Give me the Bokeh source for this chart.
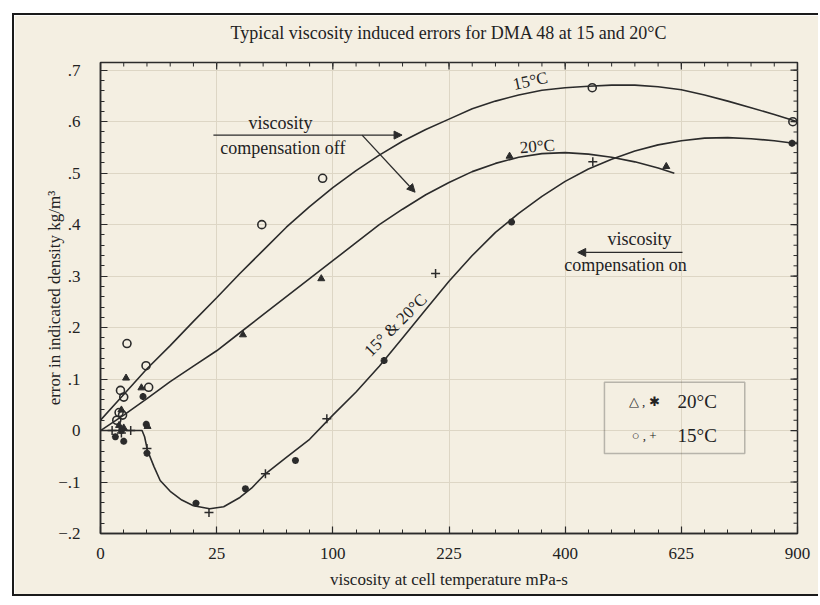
import numpy as np
from bokeh.plotting import figure
from bokeh.models import (FixedTicker, Label, Arrow, NormalHead,
                          BoxAnnotation, Range1d)
from bokeh.embed import file_html
from bokeh.resources import INLINE

# ---------------- data (viscosity mPa-s, error kg/m3) ----------------
x_tick_labels = ["0", "25", "100", "225", "400", "625", "900"]
y_tick_labels = ["\u2212.2", "\u2212.1", "0", ".1", ".2", ".3", ".4", ".5", ".6", ".7"]
y_tick_values = [-0.2, -0.1, 0, 0.1, 0.2, 0.3, 0.4, 0.5, 0.6, 0.7]

curve15_visc = [0, 1, 4, 9, 16, 25, 36, 49, 64, 81, 100, 121, 144, 169, 196, 225, 256,
                289, 324, 361, 400, 441, 484, 529, 576, 625, 676, 729, 784, 841, 900]
curve15_err = [0.02, 0.07, 0.12, 0.165, 0.212, 0.258, 0.305, 0.35, 0.395, 0.435, 0.472,
               0.505, 0.535, 0.562, 0.585, 0.605, 0.625, 0.64, 0.652, 0.661, 0.666, 0.669,
               0.671, 0.671, 0.668, 0.662, 0.652, 0.64, 0.627, 0.614, 0.60]

curve20_visc = [0, 1, 4, 9, 16, 25, 36, 49, 64, 81, 100, 121, 144, 169, 196, 225, 256,
                289, 324, 361, 400, 441, 484, 529, 576, 610]
curve20_err = [0, 0.03, 0.062, 0.095, 0.125, 0.155, 0.19, 0.225, 0.26, 0.295, 0.33, 0.365,
               0.4, 0.43, 0.458, 0.482, 0.503, 0.519, 0.531, 0.538, 0.54, 0.537, 0.531,
               0.522, 0.51, 0.50]

curve_on_visc = [0, 1, 3.2, 3.6, 4.1, 5.3, 6.6, 9, 12.25, 16, 22.1, 28.1, 36, 42.25, 50.4,
                 64, 81, 100, 121, 144, 169, 196, 225, 256, 289, 324, 361, 400, 441, 484,
                 529, 576, 625, 676, 729, 784, 841, 900]
curve_on_err = [0, 0, 0, -0.012, -0.039, -0.07, -0.097, -0.118, -0.135, -0.146, -0.152,
                -0.148, -0.13, -0.112, -0.084, -0.052, -0.017, 0.03, 0.075, 0.125, 0.18,
                0.235, 0.29, 0.34, 0.385, 0.422, 0.455, 0.484, 0.508, 0.527, 0.543, 0.555,
                0.563, 0.568, 0.569, 0.567, 0.563, 0.557]

circ15_visc = [0.49, 0.64, 0.74, 0.9, 1.0, 1.3, 3.84, 4.3, 48.2, 91.4, 448, 888]
circ15_err = [0.02, 0.035, 0.078, 0.03, 0.065, 0.169, 0.126, 0.084, 0.40, 0.49, 0.666, 0.60]

tri20_visc = [0.64, 1.0, 0.81, 1.21, 3.1, 4.1, 37.6, 90.3, 310, 593]
tri20_err = [0.01, 0.005, 0.04, 0.102, 0.083, 0.008, 0.186, 0.295, 0.533, 0.513]

star20_visc = [0.41, 0.81, 1.0, 3.35, 3.88, 4.0, 16.9, 38.9, 70.4, 149, 313, 886]
star20_err = [-0.012, 0.0, -0.021, 0.066, 0.012, -0.044, -0.141, -0.113, -0.058, 0.136,
              0.405, 0.558]

plus15_visc = [0.25, 0.81, 1.69, 4.0, 21.8, 50.4, 94.9, 208, 449]
plus15_err = [0.0, -0.005, 0.0, -0.035, -0.159, -0.084, 0.023, 0.305, 0.522]

# ---------------- styling ----------------
BG = "#f4efe2"
INK = "#2b2b2b"
TXT = "#222222"
FONT = "Liberation Serif"
X0, X1, Y0, Y1 = 0.0, 30.0, -0.2, 0.715

sq = np.sqrt  # x axis is a square-root viscosity scale

p = figure(width=806, height=583, output_backend="svg", toolbar_location=None,
           x_range=Range1d(X0, X1), y_range=Range1d(Y0, Y1),
           min_border_left=86, min_border_right=23, min_border_top=47,
           min_border_bottom=65, background_fill_color=BG, border_fill_color=BG)
p.styles = {"margin-left": "12px", "margin-top": "13px",
            "border-left": "2px solid #1a1a1a", "border-top": "2px solid #1a1a1a",
            "border-bottom": "2px solid #1a1a1a"}
p.outline_line_color = INK
p.outline_line_width = 1.5

p.title.text = "Typical viscosity induced errors for DMA 48 at 15 and 20\u00b0C"
p.title.align = "center"
p.title.text_font = FONT
p.title.text_font_style = "normal"
p.title.text_font_size = "18px"
p.title.text_color = TXT
p.title.standoff = 0
p.title.padding = dict(left=0, right=0, top=0, bottom=20)
p.title.offset = -4

x_major = [float(np.sqrt(float(t))) for t in x_tick_labels]
x_minor = list(range(0, 31))
y_minor = [round(-0.2 + 0.02 * i, 2) for i in range(46)]
xt = FixedTicker(ticks=x_major, minor_ticks=x_minor)
yt = FixedTicker(ticks=y_tick_values, minor_ticks=y_minor)


def style_axis(ax):
    ax.axis_line_color = INK
    ax.axis_line_width = 1.5
    ax.major_tick_in = 7
    ax.major_tick_out = 0
    ax.minor_tick_in = 4
    ax.minor_tick_out = 0
    ax.major_tick_line_color = INK
    ax.minor_tick_line_color = INK
    ax.major_tick_line_width = 1.2
    ax.minor_tick_line_width = 1
    ax.major_label_text_font = FONT
    ax.major_label_text_color = TXT
    ax.major_label_text_font_size = "17px"
    ax.axis_label_text_font = FONT
    ax.axis_label_text_font_style = "normal"
    ax.axis_label_text_font_size = "17px"
    ax.axis_label_text_color = TXT


xa = p.xaxis[0]
xa.ticker = xt
xa.major_label_overrides = {x_major[i]: x_tick_labels[i] for i in range(len(x_major))}
xa.axis_label = "viscosity at cell temperature mPa-s"
xa.major_label_standoff = 14
xa.axis_label_standoff = 8
style_axis(xa)

ya = p.yaxis[0]
ya.ticker = yt
ya.major_label_overrides = {y_tick_values[i]: y_tick_labels[i] for i in range(len(y_tick_values))}
ya.axis_label = "error in indicated density kg/m\u00b3"
ya.major_label_standoff = 20
ya.axis_label_standoff = -9
style_axis(ya)

p.xgrid.ticker = xt
p.ygrid.ticker = yt
p.xgrid.grid_line_color = "#ddd6c5"
p.ygrid.grid_line_color = "#ddd6c5"

# inward ticks on the right and top edges (from the same tick lists)
dx_maj, dx_min = 7 / 23.27, 4 / 23.27
dy_maj, dy_min = 7 / 514.4, 4 / 514.4
p.segment(x0=[X1] * len(y_tick_values), y0=y_tick_values,
          x1=[X1 - dx_maj] * len(y_tick_values), y1=y_tick_values,
          line_color=INK, line_width=1.2)
p.segment(x0=[X1] * len(y_minor), y0=y_minor, x1=[X1 - dx_min] * len(y_minor), y1=y_minor,
          line_color=INK, line_width=1)
p.segment(x0=x_major, y0=[Y1] * len(x_major), x1=x_major, y1=[Y1 - dy_maj] * len(x_major),
          line_color=INK, line_width=1.2)
p.segment(x0=x_minor, y0=[Y1] * len(x_minor), x1=x_minor, y1=[Y1 - dy_min] * len(x_minor),
          line_color=INK, line_width=1)

# ---------------- curves ----------------
p.line(sq(curve15_visc), curve15_err, line_color=INK, line_width=1.6)
p.line(sq(curve20_visc), curve20_err, line_color=INK, line_width=1.6)
p.line(sq(curve_on_visc), curve_on_err, line_color=INK, line_width=1.6)

# ---------------- markers ----------------
p.scatter(sq(circ15_visc), circ15_err, marker="circle", size=8, fill_color=None,
          line_color=INK, line_width=1.6)
p.scatter(sq(tri20_visc), tri20_err, marker="triangle", size=7, fill_color=INK,
          line_color=INK, line_width=1)
p.scatter(sq(star20_visc), star20_err, marker="asterisk", size=7, line_color=INK,
          line_width=2.2)
p.scatter(sq(plus15_visc), plus15_err, marker="cross", size=9, line_color=INK,
          line_width=1.5)


# ---------------- annotations ----------------
def lab(x, y, t, size="18px", angle=0.0, align="center"):
    p.add_layout(Label(x=x, y=y, text=t, text_font=FONT, text_font_size=size,
                       text_color=TXT, text_align=align, text_baseline="middle",
                       angle=angle))


lab(18.5, 0.679, "15\u00b0C", size="17px", angle=0.21)
lab(18.8, 0.552, "20\u00b0C", size="17px", angle=0.08)
lab(12.7, 0.205, "15\u00b0 & 20\u00b0C", size="17px", angle=0.785)

lab(7.75, 0.597, "viscosity")
lab(7.85, 0.548, "compensation off")
p.add_layout(Arrow(x_start=4.86, y_start=0.574, x_end=12.98, y_end=0.574,
                   line_color=INK, line_width=1.3,
                   end=NormalHead(size=8, fill_color=INK, line_color=INK)))
p.add_layout(Arrow(x_start=11.26, y_start=0.574, x_end=13.54, y_end=0.463,
                   line_color=INK, line_width=1.3,
                   end=NormalHead(size=8, fill_color=INK, line_color=INK)))

lab(23.2, 0.372, "viscosity")
lab(22.6, 0.322, "compensation on")
p.add_layout(Arrow(x_start=25.05, y_start=0.346, x_end=20.54, y_end=0.346,
                   line_color=INK, line_width=1.3,
                   end=NormalHead(size=8, fill_color=INK, line_color=INK)))

p.add_layout(BoxAnnotation(left=21.69, right=27.73, bottom=-0.0448, top=0.0936,
                           fill_alpha=0, line_color=INK, line_width=1.5))
lab(23.4, 0.056, "\u25b3 , \u2731", size="13px")
lab(24.84, 0.056, "20\u00b0C", size="19px", align="left")
lab(23.4, -0.0097, "\u25cb , +", size="13px")
lab(24.84, -0.0097, "15\u00b0C", size="19px", align="left")

open("out.html", "w").write(file_html(p, INLINE))
